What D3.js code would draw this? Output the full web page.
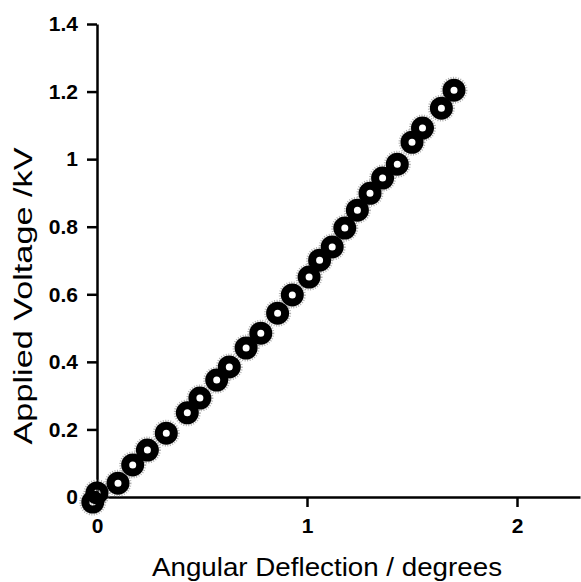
<!DOCTYPE html>
<html>
<head>
<meta charset="utf-8">
<script src="https://cdn.jsdelivr.net/npm/d3@7"></script>
<style>
  html, body { margin: 0; padding: 0; background: #fff; }
  svg { display: block; }
</style>
</head>
<body>
<div id="chart"></div>
<script>
// angular deflection (degrees) vs applied voltage (kV)
const deflection = [-0.02, 0.0, 0.10, 0.17, 0.24, 0.33, 0.43, 0.49, 0.57, 0.63, 0.71, 0.78,
  0.86, 0.93, 1.01, 1.06, 1.12, 1.18, 1.24, 1.30, 1.36, 1.43, 1.50, 1.55, 1.64, 1.70];
const voltage = [-0.015, 0.012, 0.041, 0.095, 0.139, 0.189, 0.249, 0.293, 0.346, 0.385, 0.441, 0.485,
  0.544, 0.598, 0.651, 0.701, 0.740, 0.796, 0.849, 0.899, 0.944, 0.985, 1.050, 1.092, 1.151, 1.204];
const xTicks = [0, 1, 2];
const yTicks = [0, 0.2, 0.4, 0.6, 0.8, 1, 1.2, 1.4];

const width = 581, height = 582;
const margin = {top: 24, right: 1, bottom: 85, left: 97};

const points = deflection.map((d, i) => ({x: d, y: voltage[i]}));

const svg = d3.select("#chart").append("svg")
    .attr("width", width)
    .attr("height", height)
    .style("font-family", "'Liberation Sans', Arial, sans-serif");

const x = d3.scaleLinear().domain([0, 2.3]).range([margin.left, width - margin.right]);
const y = d3.scaleLinear().domain([0, 1.4]).range([height - margin.bottom, margin.top]);

const xAxis = svg.append("g")
    .attr("transform", `translate(0,${y(0)})`)
    .call(d3.axisBottom(x).tickValues(xTicks).tickFormat(d3.format("d")).tickSize(10).tickSizeOuter(0).tickPadding(11));

const yAxis = svg.append("g")
    .attr("transform", `translate(${x(0)},0)`)
    .call(d3.axisLeft(y).tickValues(yTicks).tickFormat(d => d === 0 || d === 1 ? d3.format("d")(d) : d3.format(".1f")(d)).tickSize(10).tickSizeOuter(0).tickPadding(9));

[xAxis, yAxis].forEach(g => {
    g.select(".domain").attr("stroke", "#000").attr("stroke-width", 2.5);
    g.selectAll(".tick line").attr("stroke", "#000").attr("stroke-width", 2.5);
    g.selectAll(".tick text")
        .attr("fill", "#000")
        .attr("font-size", "21px")
        .attr("font-weight", "bold")
        .style("font-family", "'Liberation Sans', Arial, sans-serif");
});

// soft grey halo round the markers
svg.append("g").selectAll("circle").data(points).join("circle")
    .attr("cx", d => x(d.x))
    .attr("cy", d => y(d.y))
    .attr("r", 12.5)
    .attr("fill", "none")
    .attr("stroke", "#999")
    .attr("stroke-width", 2)
    .attr("stroke-dasharray", "1,1.5")
    .attr("opacity", 0.8);

svg.append("g").selectAll("circle").data(points).join("circle")
    .attr("cx", d => x(d.x))
    .attr("cy", d => y(d.y))
    .attr("r", 7.5)
    .attr("fill", "none")
    .attr("stroke", "#000")
    .attr("stroke-width", 8);

svg.append("text")
    .attr("x", 327)
    .attr("y", 576)
    .attr("text-anchor", "middle")
    .attr("font-size", "25px")
    .attr("textLength", 350)
    .attr("lengthAdjust", "spacingAndGlyphs")
    .attr("fill", "#000")
    .text("Angular Deflection / degrees");

svg.append("text")
    .attr("transform", "translate(32,296) rotate(-90)")
    .attr("text-anchor", "middle")
    .attr("font-size", "25px")
    .attr("textLength", 297)
    .attr("lengthAdjust", "spacingAndGlyphs")
    .attr("fill", "#000")
    .text("Applied Voltage /kV");
</script>
</body>
</html>
